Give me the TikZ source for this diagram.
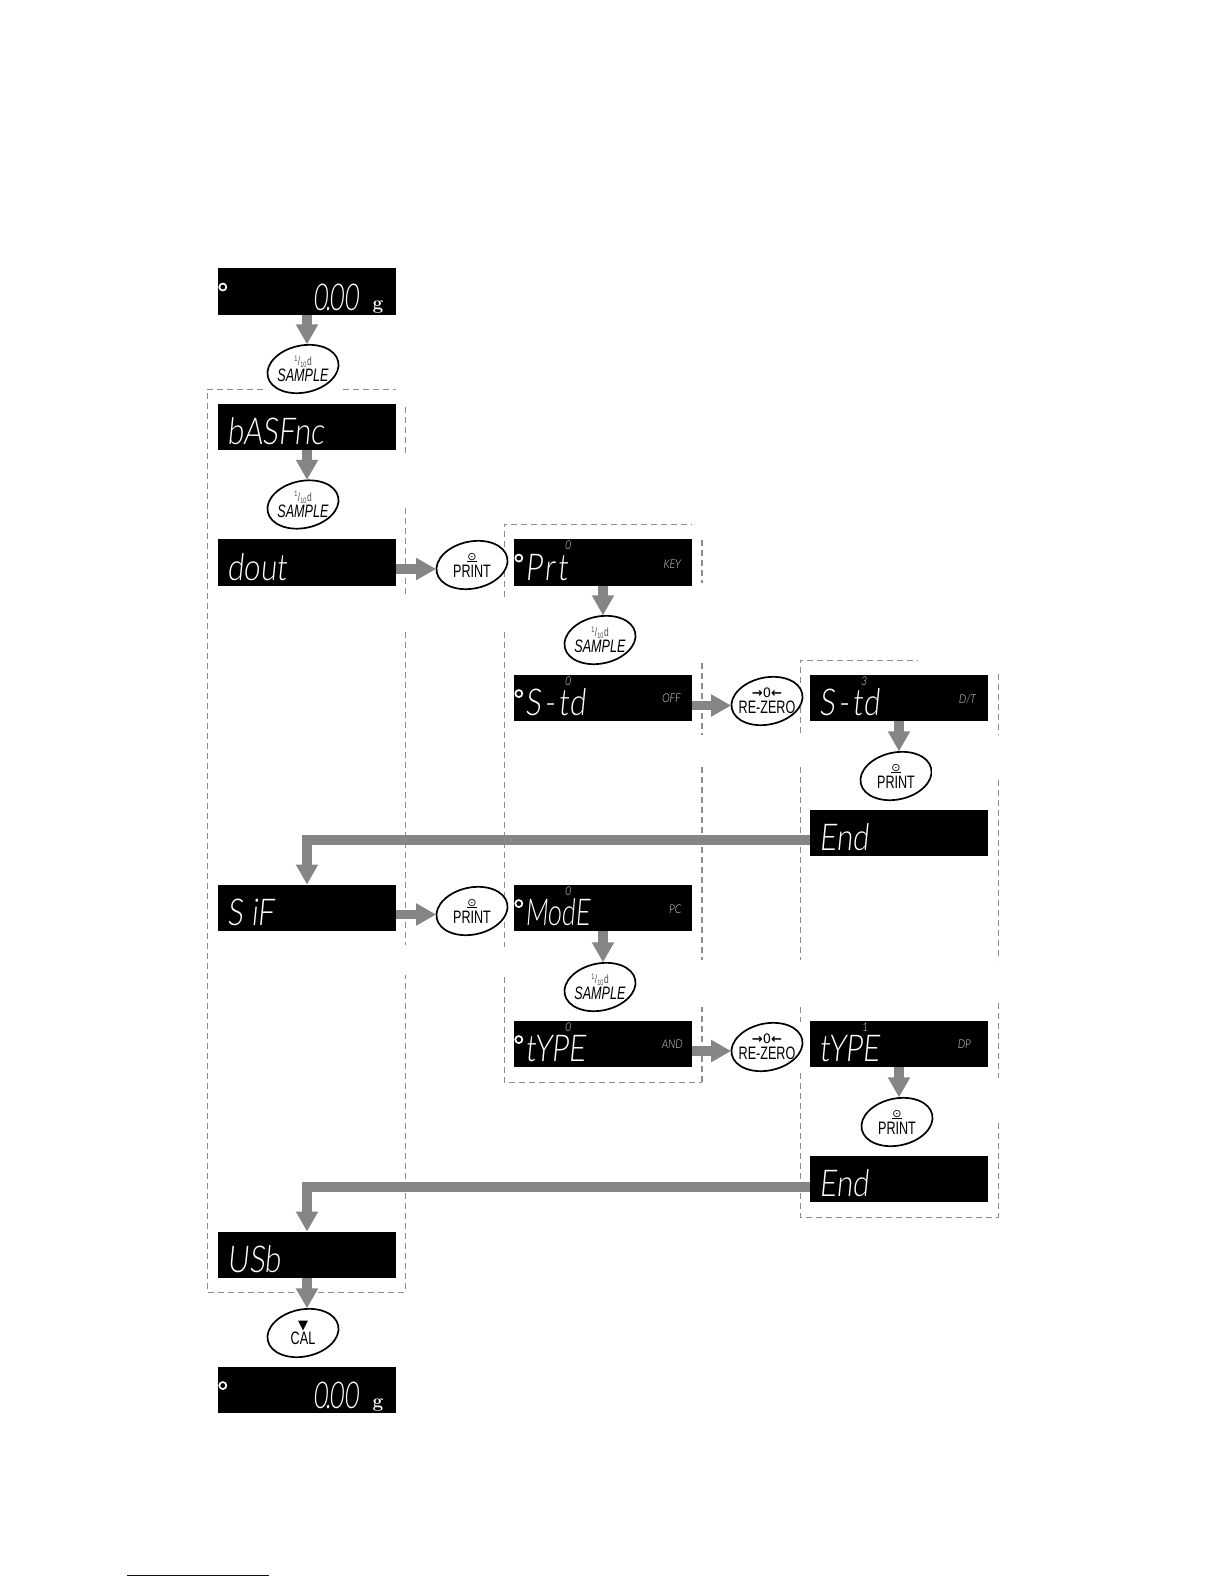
\documentclass[tikz,border=0pt]{standalone}
\usepackage{fontspec}
\usetikzlibrary{arrows.meta, shapes.geometric, calc}
\newfontfamily\lcdfont[FakeStretch=.8, FakeSlant=.1]{Lato Light}
\newfontfamily\keyfont[FakeStretch=.7]{Liberation Sans}
\newfontfamily\symfont{DejaVu Sans}
\tikzset{
	lcd/.style={fill=black, minimum width=178pt, minimum height=46.5pt, inner sep=0pt},
	lcdtext/.style={text=white, font=\lcdfont\fontsize{37}{37}\selectfont, anchor=base west, inner sep=0pt},
	lcdsmall/.style={text=white!90!black, font=\lcdfont\fontsize{12}{12}\selectfont, inner sep=0pt},
	lcdunit/.style={text=white, font=\bfseries\fontsize{19}{19}\selectfont, anchor=base, inner sep=0pt},
	lcdring/.style={circle, draw=white, line width=1.7pt, minimum size=7pt, inner sep=0pt},
	keyring/.style={ellipse, draw=black, fill=white, line width=1.7pt, rotate=12, minimum width=72pt, minimum height=47pt, inner sep=0pt},
	keytext/.style={align=center, inner sep=0pt, font=\keyfont\fontsize{18}{15}\selectfont},
	flow/.style={draw=flowgray, line width=9.5pt, -{Triangle[width=21pt, length=20pt]}},
	frame/.style={draw=framegray, line width=1pt, dash pattern=on 6pt off 4pt},
	framethick/.style={frame, line width=1.5pt},
}
\definecolor{flowgray}{HTML}{858585}
\definecolor{framegray}{HTML}{8C8C8C}
% display with its main reading
\newcommand{\lcdbox}[4]{
	\node[lcd] (#1) at (#2,#3) {};
	\node[lcdtext] (#1text) at ([shift={(9.5pt,5.5pt)}]#1.south west) {#4};
}
\newcommand{\lcddot}[1]{\node[lcdring] (#1dot) at ([shift={(5pt,-19pt)}]#1.north west) {};}
% keys
\newcommand{\keysample}[3]{
	\node[keyring] (#1) at (#2,#3) {};
	\node[keytext] (#1text) at (#1) {{\fontsize{12}{10}\selectfont\textcolor{black!70}{\textsuperscript{1}/\textsubscript{10}d}}\\[1pt]\textit{SAMPLE}};
}
\newcommand{\keyprint}[3]{
	\node[keyring] (#1) at (#2,#3) {};
	\node[keytext] (#1text) at (#1) {{\symfont\fontsize{11}{10}\selectfont\underline{⊙}}\\[2pt]PRINT};
}
\newcommand{\keyzero}[3]{
	\node[keyring] (#1) at (#2,#3) {};
	\node[keytext] (#1text) at (#1) {{\symfont\fontsize{13}{10}\selectfont\textbf{→}0\textbf{←}}\\[1pt]RE-ZERO};
}
\begin{document}
\begin{tikzpicture}[x=1pt, y=-1pt]
	\useasboundingbox (0,0) rectangle (1224,1584);
	% dashed frames
	\draw[frame] (263,389) -- (207,389) -- (207,1292) -- (405,1292) -- (405,975);
	\draw[frame] (343,389) -- (396,389);
	\draw[frame] (405,407) -- (405,457);
	\draw[frame] (405,508) -- (405,598);
	\draw[frame] (405,632) -- (405,945);
	\draw[frame] (504,597) -- (504,524) -- (692,524);
	\draw[frame] (504,632) -- (504,947);
	\draw[frame] (504,977) -- (504,1082) -- (702,1082);
	\draw[framethick] (702,1082) -- (702,1007);
	\draw[framethick] (702,540) -- (702,583);
	\draw[framethick] (702,663) -- (702,735);
	\draw[framethick] (702,767) -- (702,960);
	\draw[frame] (800,733) -- (800,660) -- (918,660);
	\draw[frame] (800,767) -- (800,960);
	\draw[frame] (800,1007) -- (800,1022);
	\draw[frame] (800,1073) -- (800,1217) -- (998,1217) -- (998,1123);
	\draw[frame] (998,674) -- (998,735);
	\draw[frame] (998,780) -- (998,960);
	\draw[frame] (998,1003) -- (998,1078);
	% left column
	\lcdbox{zeroA}{307}{291.5}{}
	\node[lcdtext] (zeroAval) at (313,310) {\scalebox{.85}[1]{0\kern-2.5pt.\kern-2.5pt00}};
	\node[lcdunit] (zeroAunit) at (378,309) {g};
	\lcddot{zeroA}
	\keysample{keyA}{303}{369}
	\lcdbox{basfnc}{307}{427}{bASFnc}
	\keysample{keyB}{303}{504.5}
	\lcdbox{dout}{307}{562.5}{dout}
	\keyprint{keyC}{472}{565}
	\lcdbox{sif}{307}{908}{S iF}
	\keyprint{keyD}{472}{911}
	\lcdbox{usb}{307}{1255}{USb}
	\node[keyring] (keyE) at (303,1333) {};
	\node[keytext] (keyEtext) at (keyE) {{\symfont\fontsize{13}{12}\selectfont ▼}\\[0pt]CAL};
	\lcdbox{zeroB}{307}{1390}{}
	\node[lcdtext] (zeroBval) at (313,1408) {\scalebox{.85}[1]{0\kern-2.5pt.\kern-2.5pt00}};
	\node[lcdunit] (zeroBunit) at (378,1407) {g};
	\lcddot{zeroB}
	% middle column
	\lcdbox{prt}{603}{562.5}{\kern2pt P\kern2pt r\kern2pt t}
	\lcddot{prt}
	\node[lcdsmall] (prtnum) at (568,545) {0};
	\node[lcdsmall] (prtval) at (672,564) {KEY};
	\keysample{keyF}{600}{640}
	\fill[color=white] (636.5,610) rectangle (645,670);	% Erase
	\lcdbox{std}{603}{698}{\kern2pt S\kern3pt-\kern3pt t\kern1pt d}
	\lcddot{std}
	\node[lcdsmall] (stdnum) at (568,681) {0};
	\node[lcdsmall] (stdval) at (671,698) {OFF};
	\keyzero{keyG}{767}{701}
	\lcdbox{mode}{603}{908}{\kern2pt\scalebox{.85}[1]{ModE}}
	\lcddot{mode}
	\node[lcdsmall] (modenum) at (568,891) {0};
	\node[lcdsmall] (modeval) at (675,909) {PC};
	\keysample{keyH}{600}{987}
	\lcdbox{type}{603}{1044}{\kern2pt tYPE}
	\lcddot{type}
	\node[lcdsmall] (typenum) at (568,1027) {0};
	\node[lcdsmall] (typeval) at (672,1044) {AND};
	\keyzero{keyI}{767}{1047}
	% right column
	\lcdbox{stdB}{899}{698}{S\kern3pt-\kern3pt t\kern1pt d}
	\node[lcdsmall] (stdBnum) at (864,681) {3};
	\node[lcdsmall] (stdBval) at (967,699) {D/T};
	\keyprint{keyJ}{896}{776}
	\fill[color=white] (931.5,745) rectangle (940,806);	% Erase
	\lcdbox{endA}{899}{833}{End}
	\lcdbox{typeB}{899}{1044}{tYPE}
	\node[lcdsmall] (typeBnum) at (865,1027) {1};
	\node[lcdsmall] (typeBval) at (964,1044) {DP};
	\keyprint{keyK}{897}{1122}
	\lcdbox{endB}{899}{1179}{End}
	% arrows
	\draw[flow] (zeroA.south) -- (zeroA.south |- keyA.78);
	\draw[flow] (basfnc.south) -- (basfnc.south |- keyB.78);
	\draw[flow] ([yshift=-6.5pt]dout.east) -- ([yshift=-6.5pt]dout.east -| keyC.168);
	\draw[flow] ([yshift=-6.5pt]sif.east) -- ([yshift=-6.5pt]sif.east -| keyD.168);
	\draw[flow] (usb.south) -- (usb.south |- keyE.78);
	\draw[flow] (prt.south) -- (prt.south |- keyF.78);
	\draw[flow] ([yshift=-7.5pt]std.east) -- ([yshift=-7.5pt]std.east -| keyG.168);
	\draw[flow] (mode.south) -- (mode.south |- keyH.78);
	\draw[flow] ([yshift=-7pt]type.east) -- ([yshift=-7pt]type.east -| keyI.168);
	\draw[flow] (stdB.south) -- (stdB.south |- keyJ.78);
	\draw[flow] (typeB.south) -- (typeB.south |- keyK.78);
	\draw[flow] ([yshift=-7pt]endA.west) -| (sif.north);
	\draw[flow] ([yshift=-8pt]endB.west) -| (usb.north);
	% page rule
	\draw[color=blue!50!black, line width=1pt] (127,1575) -- (269,1575);
\end{tikzpicture}
\end{document}
